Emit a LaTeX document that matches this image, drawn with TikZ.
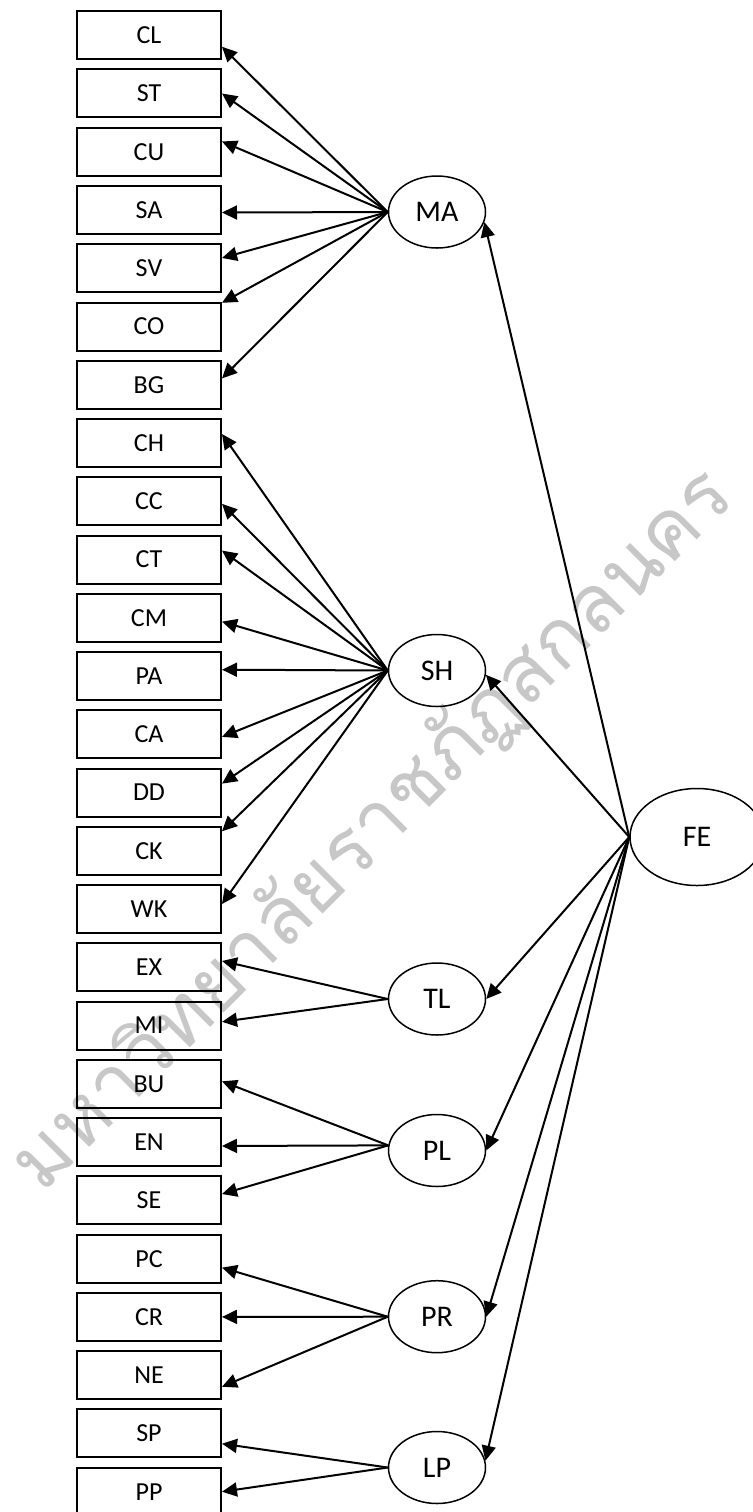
\documentclass[tikz,border=0pt]{standalone}
\usepackage{fontspec}
\setmainfont{Carlito}
\newfontfamily\thaifont[Script=Thai]{Loma}
\usepackage{tikz}
\usetikzlibrary{arrows.meta, shapes.geometric}
\tikzset{
    observed/.style={rectangle, minimum width=72pt, minimum height=24pt,
        inner sep=0pt, draw=black, line width=1pt, align=center,
        font=\fontsize{13}{15}\selectfont},
    latent/.style={ellipse, minimum width=48.5pt, minimum height=36pt,
        inner sep=0pt, draw=black, line width=0.75pt, align=center,
        font=\fontsize{15}{17}\selectfont},
    factor/.style={latent, minimum width=67pt, minimum height=48.5pt},
    watermark/.style={text=black!22, inner sep=0pt,
        font=\thaifont\fontsize{40}{40}\selectfont},
    arrow/.style={line width=1pt, -{Triangle[length=7.5pt, width=7pt]}}
}
\begin{document}
\begin{tikzpicture}[x=0.5pt, y=-0.5pt]
\useasboundingbox (0,0) rectangle (752,1512);
\node[watermark, rotate=45] (mark) at (373,830) {มหาวิทยาลัยราชภัฏสกลนคร};
% observed variables
\foreach \lbl [count=\i from 0] in {CL,ST,CU,SA,SV,CO,BG,CH,CC,CT,CM,PA,CA,
    DD,CK,WK,EX,MI,BU,EN,SE,PC,CR,NE,SP,PP}
    \node[observed] (\lbl) at (149, {35.2+58.26*\i}) {\lbl};
% first-order factors
\node[latent] (MA) at (437, 212)    {MA};
\node[latent] (SH) at (437, 670.5)  {SH};
\node[latent] (TL) at (437, 999)    {TL};
\node[latent] (PL) at (437, 1150.5) {PL};
\node[latent] (PR) at (437, 1316.7) {PR};
\node[latent] (LP) at (437, 1467.5) {LP};
% second-order factor
\node[factor] (FE) at (697, 837) {FE};
\foreach \ind/\ang in {CL/-9, ST/0, CU/8, SA/-2, SV/8, CO/18, BG/5.5}
    \draw[arrow] (MA.west) -- (\ind.\ang);
\foreach \ind/\ang in {CH/7, CC/-2, CT/7, CM/-3, PA/5, CA/-2.5, DD/7, CK/15, WK/4}
    \draw[arrow] (SH.west) -- (\ind.\ang);
\foreach \ind/\ang in {EX/5.5, MI/3}
    \draw[arrow] (TL.west) -- (\ind.\ang);
\foreach \ind/\ang in {BU/2.5, EN/-3, SE/5}
    \draw[arrow] (PL.174) -- (\ind.\ang);
\foreach \ind/\ang in {PC/-7.5, CR/0, NE/-9}
    \draw[arrow] (PR.west) -- (\ind.\ang);
\foreach \ind/\ang in {SP/-8.5, PP/0}
    \draw[arrow] (LP.west) -- (\ind.\ang);
\foreach \lat/\ang in {MA/-12, SH/-5, TL/0, PL/0, PR/0, LP/8}
    \draw[arrow] (FE.west) -- (\lat.\ang);
\end{tikzpicture}
\end{document}
